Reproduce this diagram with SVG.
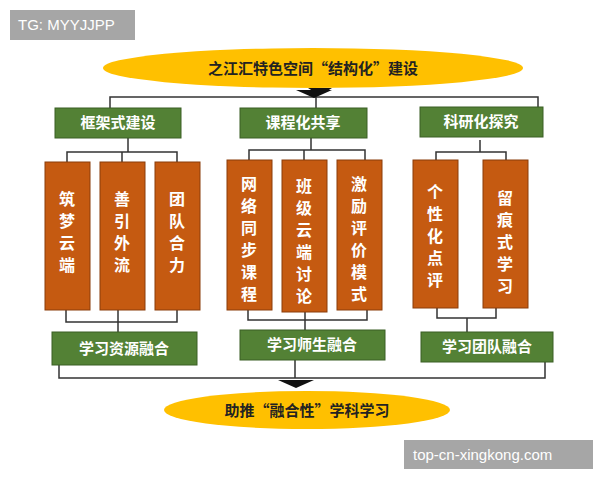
<svg xmlns="http://www.w3.org/2000/svg" width="600" height="480" viewBox="0 0 600 480">
<style>
.g{fill:#538135;stroke:#3a5f24;stroke-width:1}
.o{fill:#c55a11;stroke:#8a3d0a;stroke-width:1}
.y{fill:#ffc000}
.tg{font-family:"Noto Sans CJK SC",sans-serif;font-size:15px;fill:#fff;text-anchor:middle;font-weight:bold}
.to{font-family:"Noto Sans CJK SC",sans-serif;font-size:16px;fill:#fff;text-anchor:middle;font-weight:bold}
.ty{font-family:"Noto Sans CJK SC",sans-serif;font-size:15px;fill:#222;text-anchor:middle;font-weight:bold}
.wm{font-family:"Liberation Sans",sans-serif;font-size:15px;fill:#fff}
.l{fill:none;stroke:#333;stroke-width:1.5}
</style>
<rect width="600" height="480" fill="#fff"/>
<g id="wm1"><rect x="10" y="10" width="125" height="30" fill="#a6a6a6"/><text class="wm" x="18" y="30">TG: MYYJJPP</text></g>
<g id="wm2"><rect x="404" y="440" width="189" height="29" fill="#a6a6a6"/><text class="wm" x="413" y="460">top-cn-xingkong.com</text></g>
<g id="connectors">
<path class="l" d="M110 108V97H538V107M316 97V108M128 138V152M67 162V152H177V162M122 152V162M311 138V150M249 160V150H365V160M304 150V160M480 140V152M436 160V152H506V160"/>
<path class="l" d="M66 310V322H177V310M118 310V332M248 310V320H367V310M305 310V330M437 308V318H496V308M467 318V332"/>
<path class="l" d="M59 365V378H545V362M295 360V378"/>
<path d="M300 88h32l-8 5h-8l-8-5z M296 90h36l-18 8z" fill="#111"/>
<path d="M278 380h36l-18 8z" fill="#111"/>
</g>
<g id="top"><ellipse class="y" cx="313" cy="68" rx="210" ry="20"/><text class="ty" x="313" y="74">之江汇特色空间“结构化”建设</text></g>
<g id="bottom"><ellipse class="y" cx="307" cy="410" rx="143" ry="19"/><text class="ty" x="307" y="416">助推“融合性”学科学习</text></g>
<g id="g1"><rect class="g" x="55" y="108" width="126" height="30"/><text class="tg" x="118" y="128">框架式建设</text></g>
<g id="g2"><rect class="g" x="240" y="108" width="127" height="30"/><text class="tg" x="303" y="128">课程化共享</text></g>
<g id="g3"><rect class="g" x="420" y="107" width="123" height="30"/><text class="tg" x="481" y="127">科研化探究</text></g>
<g id="o1"><rect class="o" x="45" y="162" width="45" height="148"/><text class="to" x="67"><tspan x="67" y="205">筑</tspan><tspan x="67" y="227">梦</tspan><tspan x="67" y="249">云</tspan><tspan x="67" y="271">端</tspan></text></g>
<g id="o2"><rect class="o" x="100" y="162" width="45" height="148"/><text class="to"><tspan x="122" y="205">善</tspan><tspan x="122" y="227">引</tspan><tspan x="122" y="249">外</tspan><tspan x="122" y="271">流</tspan></text></g>
<g id="o3"><rect class="o" x="155" y="162" width="45" height="148"/><text class="to"><tspan x="177" y="205">团</tspan><tspan x="177" y="227">队</tspan><tspan x="177" y="249">合</tspan><tspan x="177" y="271">力</tspan></text></g>
<g id="o4"><rect class="o" x="227" y="160" width="45" height="150"/><text class="to"><tspan x="249" y="190">网</tspan><tspan x="249" y="212">络</tspan><tspan x="249" y="234">同</tspan><tspan x="249" y="256">步</tspan><tspan x="249" y="278">课</tspan><tspan x="249" y="300">程</tspan></text></g>
<g id="o5"><rect class="o" x="282" y="160" width="45" height="152"/><text class="to"><tspan x="304" y="192">班</tspan><tspan x="304" y="214">级</tspan><tspan x="304" y="236">云</tspan><tspan x="304" y="258">端</tspan><tspan x="304" y="280">讨</tspan><tspan x="304" y="302">论</tspan></text></g>
<g id="o6"><rect class="o" x="337" y="160" width="45" height="150"/><text class="to"><tspan x="359" y="190">激</tspan><tspan x="359" y="212">励</tspan><tspan x="359" y="234">评</tspan><tspan x="359" y="256">价</tspan><tspan x="359" y="278">模</tspan><tspan x="359" y="300">式</tspan></text></g>
<g id="o7"><rect class="o" x="413" y="160" width="45" height="148"/><text class="to"><tspan x="435" y="198">个</tspan><tspan x="435" y="220">性</tspan><tspan x="435" y="242">化</tspan><tspan x="435" y="264">点</tspan><tspan x="435" y="286">评</tspan></text></g>
<g id="o8"><rect class="o" x="483" y="160" width="45" height="148"/><text class="to"><tspan x="505" y="204">留</tspan><tspan x="505" y="226">痕</tspan><tspan x="505" y="248">式</tspan><tspan x="505" y="270">学</tspan><tspan x="505" y="292">习</tspan></text></g>
<g id="b1"><rect class="g" x="52" y="332" width="145" height="33"/><text class="tg" x="124" y="354">学习资源融合</text></g>
<g id="b2"><rect class="g" x="240" y="330" width="145" height="30"/><text class="tg" x="312" y="350">学习师生融合</text></g>
<g id="b3"><rect class="g" x="421" y="332" width="132" height="30"/><text class="tg" x="487" y="352">学习团队融合</text></g>
</svg>
